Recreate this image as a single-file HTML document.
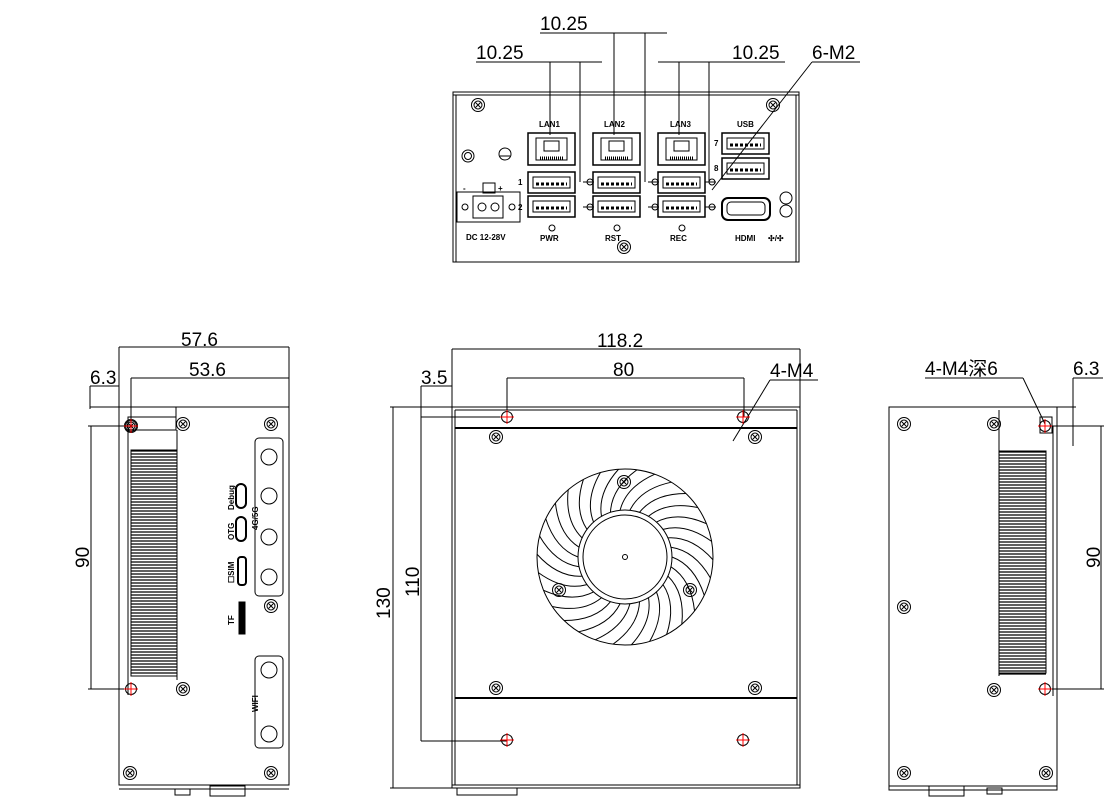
<!DOCTYPE html>
<html><head><meta charset="utf-8"><style>
html,body{margin:0;padding:0;background:#fff;}
svg{display:block;font-family:"Liberation Sans","Noto Sans CJK SC",sans-serif;}
.t{font-size:19px;fill:#000;}
.s{font-size:8px;font-weight:bold;fill:#000;}
</style></head><body>
<svg id="g" width="1105" height="802" viewBox="0 0 1105 802" xmlns="http://www.w3.org/2000/svg" fill="none" stroke="#000" stroke-width="1">
<rect x="453" y="92" width="346" height="170"/>
<line x1="453" y1="95" x2="799" y2="95"/>
<line x1="456" y1="95" x2="456" y2="262"/><line x1="796" y1="95" x2="796" y2="262"/>
<g stroke-width="1">
<line x1="476" y1="62" x2="602" y2="62"/><line x1="550" y1="62" x2="550" y2="135"/><line x1="580" y1="62" x2="580" y2="182"/>
<line x1="540" y1="33" x2="667" y2="33"/><line x1="614" y1="33" x2="614" y2="135"/><line x1="645" y1="33" x2="645" y2="182"/>
<line x1="658" y1="62" x2="785" y2="62"/><line x1="679" y1="62" x2="679" y2="135"/><line x1="709" y1="62" x2="709" y2="182"/>
<line x1="812" y1="62" x2="860" y2="62"/><line x1="812" y1="62" x2="712" y2="190"/>
</g>
<text class="t" x="476" y="59" stroke="none">10.25</text>
<text class="t" x="540" y="30" stroke="none">10.25</text>
<text class="t" x="732" y="59" stroke="none">10.25</text>
<text class="t" x="812" y="59" stroke="none">6-M2</text>
<g id="ports"></g>
<circle cx="468" cy="156" r="6"/><circle cx="468" cy="156" r="3.5"/>
<circle cx="505" cy="154" r="6"/><line x1="500" y1="156" x2="510" y2="156"/>
<rect x="457" y="192" width="63" height="30"/><rect x="473" y="196" width="30" height="22"/>
<circle cx="465" cy="207" r="3"/><circle cx="512" cy="207" r="3"/><circle cx="482" cy="207" r="4"/><circle cx="495" cy="207" r="4"/>
<rect x="483" y="183" width="12" height="10"/>
<text class="s" x="463" y="191" stroke="none">-</text><text class="s" x="498" y="191" stroke="none">+</text>
<text class="s" x="466" y="240" stroke="none">DC 12-28V</text>
<text class="s" x="540" y="241" stroke="none">PWR</text>
<text class="s" x="605" y="241" stroke="none">RST</text>
<text class="s" x="670" y="241" stroke="none">REC</text>
<text class="s" x="735" y="241" stroke="none">HDMI</text>
<text class="s" x="768" y="241" stroke="none">✣/✣</text>
<text class="s" x="539" y="127" stroke="none">LAN1</text>
<text class="s" x="604" y="127" stroke="none">LAN2</text>
<text class="s" x="670" y="127" stroke="none">LAN3</text>
<text class="s" x="737" y="127" stroke="none">USB</text>
<text class="s" x="518" y="185" stroke="none">1</text><text class="s" x="518" y="210" stroke="none">2</text>
<text class="s" x="714" y="146" stroke="none">7</text><text class="s" x="714" y="171" stroke="none">8</text>
<rect x="722" y="198" width="48" height="22" rx="6" stroke-width="2"/><rect x="727" y="202" width="38" height="13" rx="4"/>
<circle cx="786" cy="198" r="6"/><circle cx="786" cy="211" r="6"/>
<rect x="119" y="407" width="170" height="378"/>
<line x1="119" y1="785" x2="289" y2="785"/><line x1="119" y1="789" x2="289" y2="789"/>
<rect x="128" y="417" width="48" height="13"/>
<line x1="176" y1="407" x2="176" y2="430"/>
<line x1="128" y1="425" x2="128" y2="695"/>
<line x1="177" y1="430" x2="177" y2="680"/>
<g id="finsL"></g>
<rect x="255" y="438" width="28" height="158" rx="4"/>
<rect x="255" y="656" width="28" height="92" rx="4"/>
<circle cx="269" cy="457" r="8"/><circle cx="269" cy="496" r="8"/><circle cx="269" cy="537" r="8"/><circle cx="269" cy="577" r="8"/>
<circle cx="269" cy="670" r="8"/><circle cx="269" cy="734" r="8"/>
<rect x="236" y="484" width="10" height="24" rx="5" stroke-width="2"/><rect x="236" y="517" width="10" height="24" rx="5" stroke-width="2"/><rect x="238" y="557" width="8" height="28" rx="3" stroke-width="2"/><rect x="239" y="602" width="6" height="32" fill="#000"/>
<text class="s" transform="translate(234,510) rotate(-90)" stroke="none">Debug</text>
<text class="s" transform="translate(234,540) rotate(-90)" stroke="none">OTG</text>
<text class="s" transform="translate(234,583) rotate(-90)" stroke="none">☐SIM</text>
<text class="s" transform="translate(234,625) rotate(-90)" stroke="none">TF</text>
<text class="s" transform="translate(258,530) rotate(-90)" stroke="none">4G/5G</text>
<text class="s" transform="translate(258,712) rotate(-90)" stroke="none">WIFI</text>
<rect x="175" y="789" width="15" height="6"/><rect x="210" y="786" width="35" height="10"/>
<line x1="119" y1="347" x2="289" y2="347"/><line x1="119" y1="347" x2="119" y2="407"/><line x1="289" y1="347" x2="289" y2="407"/>
<line x1="131" y1="378" x2="289" y2="378"/><line x1="131" y1="378" x2="131" y2="426"/>
<line x1="90" y1="386" x2="119" y2="386"/><line x1="90" y1="386" x2="90" y2="409"/>
<line x1="90" y1="407" x2="289" y2="407"/>
<line x1="91" y1="426" x2="91" y2="689"/><line x1="88" y1="426" x2="131" y2="426"/><line x1="88" y1="689" x2="131" y2="689"/>
<text class="t" x="181" y="346" stroke="none">57.6</text>
<text class="t" x="189" y="376" stroke="none">53.6</text>
<text class="t" x="90" y="384" stroke="none">6.3</text>
<text class="t" transform="translate(89,568) rotate(-90)" stroke="none">90</text>
<rect x="452" y="407" width="348" height="381"/>
<line x1="455" y1="410" x2="797" y2="410"/>
<line x1="455" y1="410" x2="455" y2="785"/><line x1="797" y1="410" x2="797" y2="785"/>
<line x1="455" y1="428" x2="797" y2="428" stroke-width="2"/>
<line x1="455" y1="698" x2="797" y2="698" stroke-width="2"/>
<line x1="452" y1="785" x2="800" y2="785"/>
<rect x="457" y="788" width="60" height="7"/>
<line x1="452" y1="349" x2="800" y2="349"/><line x1="452" y1="349" x2="452" y2="407"/><line x1="800" y1="349" x2="800" y2="407"/>
<line x1="507" y1="378" x2="744" y2="378"/><line x1="507" y1="378" x2="507" y2="417"/><line x1="744" y1="378" x2="744" y2="417"/>
<line x1="421" y1="386" x2="452" y2="386"/>
<line x1="393" y1="407" x2="393" y2="788"/><line x1="390" y1="407" x2="452" y2="407"/><line x1="390" y1="788" x2="452" y2="788"/>
<line x1="421" y1="386" x2="421" y2="741"/><line x1="421" y1="417" x2="507" y2="417"/><line x1="421" y1="741" x2="507" y2="741"/>
<line x1="770" y1="380" x2="818" y2="380"/><line x1="770" y1="380" x2="733" y2="441"/>
<text class="t" x="597" y="347" stroke="none">118.2</text>
<text class="t" x="613" y="376" stroke="none">80</text>
<text class="t" x="421" y="384" stroke="none">3.5</text>
<text class="t" x="770" y="377" stroke="none">4-M4</text>
<text class="t" transform="translate(390,619) rotate(-90)" stroke="none">130</text>
<text class="t" transform="translate(419,597) rotate(-90)" stroke="none">110</text>
<circle cx="625" cy="557" r="88"/>
<g id="blades"></g>
<circle cx="625" cy="557" r="47" fill="#fff"/><circle cx="625" cy="557" r="42"/><circle cx="625" cy="557" r="2.5"/>
<rect x="889" y="407" width="168" height="383"/>
<line x1="889" y1="786" x2="1057" y2="786"/>
<rect x="929" y="786" width="35" height="10"/><rect x="987" y="788" width="15" height="6"/>
<rect x="1040" y="417" width="12" height="16"/>
<line x1="1053" y1="426" x2="1053" y2="696"/>
<line x1="999" y1="410" x2="999" y2="430"/>
<line x1="999" y1="430" x2="999" y2="676"/>
<g id="finsR"></g>
<line x1="925" y1="378" x2="1023" y2="378"/><line x1="1023" y1="378" x2="1045" y2="424"/>
<line x1="1073" y1="378" x2="1103" y2="378"/><line x1="1073" y1="378" x2="1073" y2="446"/><line x1="1057" y1="407" x2="1076" y2="407"/>
<line x1="1101" y1="426" x2="1101" y2="689"/><line x1="1045" y1="426" x2="1104" y2="426"/><line x1="1045" y1="689" x2="1104" y2="689"/>
<text class="t" x="925" y="375" stroke="none">4-M4深6</text>
<text class="t" x="1073" y="375" stroke="none">6.3</text>
<text class="t" transform="translate(1100,568) rotate(-90)" stroke="none">90</text>
<g id="extra"></g>
</svg>
<script>
var NS="http://www.w3.org/2000/svg";
function el(p,t,a){var e=document.createElementNS(NS,t);for(var k in a)e.setAttribute(k,a[k]);document.getElementById(p).appendChild(e);return e;}
function screw(x,y){el("extra","circle",{cx:x,cy:y,r:6.5});el("extra","circle",{cx:x,cy:y,r:4});el("extra","path",{d:"M"+(x-2.5)+" "+(y-2.5)+"L"+(x+2.5)+" "+(y+2.5)+"M"+(x+2.5)+" "+(y-2.5)+"L"+(x-2.5)+" "+(y+2.5)});}
function hole(x,y){el("extra","circle",{cx:x,cy:y,r:5.5});el("extra","path",{d:"M"+(x-7)+" "+y+"H"+(x+7)+"M"+x+" "+(y-7)+"V"+(y+7),stroke:"red"});}
[[478,105],[773,105],[624,247],[131,426],[183,424],[183,689],[130,773],[271,773],[271,424],[271,606],
 [496,437],[755,437],[496,688],[755,688],[624,482],[559,590],[690,590],
 [904,424],[994,424],[904,607],[904,773],[994,690],[1046,773]].forEach(function(p){screw(p[0],p[1]);});
[[507,417],[743,417],[507,740],[743,740],[131,426],[131,689],[1045,426],[1045,689]].forEach(function(p){hole(p[0],p[1]);});
for(var y=451;y<676;y+=3){el("finsL","line",{x1:131,y1:y,x2:177,y2:y,"stroke-width":1.3});el("finsR","line",{x1:999,y1:y+1,x2:1046,y2:y+1,"stroke-width":1.3});}
el("finsL","rect",{x:131,y:450,width:46,height:226});el("finsR","rect",{x:999,y:451,width:47,height:222});
for(var i=0;i<30;i++){var a=i*Math.PI*2/30;var a2=a+0.45;
 var x1=625+47*Math.cos(a),y1=557+47*Math.sin(a),x2=625+88*Math.cos(a2),y2=557+88*Math.sin(a2),cx=625+70*Math.cos(a+0.12),cy=557+70*Math.sin(a+0.12);
 el("blades","path",{d:"M"+x1+" "+y1+"Q"+cx+" "+cy+" "+x2+" "+y2});}
function usb(x,y){el("ports","rect",{x:x,y:y,width:47,height:21,"stroke-width":1.5});el("ports","rect",{x:x+5,y:y+5,width:37,height:11});el("ports","path",{d:"M"+(x+8)+" "+(y+12)+"h31",stroke:"#000","stroke-width":3,"stroke-dasharray":"3 2"});}
[528,593,658].forEach(function(x){
 el("ports","rect",{x:x,y:133,width:47,height:32,"stroke-width":1.5});el("ports","rect",{x:x+8,y:138,width:31,height:22});el("ports","rect",{x:x+16,y:141,width:15,height:10});
 el("ports","path",{d:"M"+(x+12)+" 158h23",stroke:"#000","stroke-width":3,"stroke-dasharray":"1 1"});
 usb(x,172);usb(x,196);
 el("ports","circle",{cx:x+24,cy:228,r:3});
});
usb(722,133);usb(722,158);
[[590,182],[590,207],[655,182],[655,207],[712,182],[712,207]].forEach(function(p){el("ports","circle",{cx:p[0],cy:p[1],r:3});el("ports","line",{x1:p[0]-7,y1:p[1],x2:p[0]+4,y2:p[1]});});
</script>
</body></html>
